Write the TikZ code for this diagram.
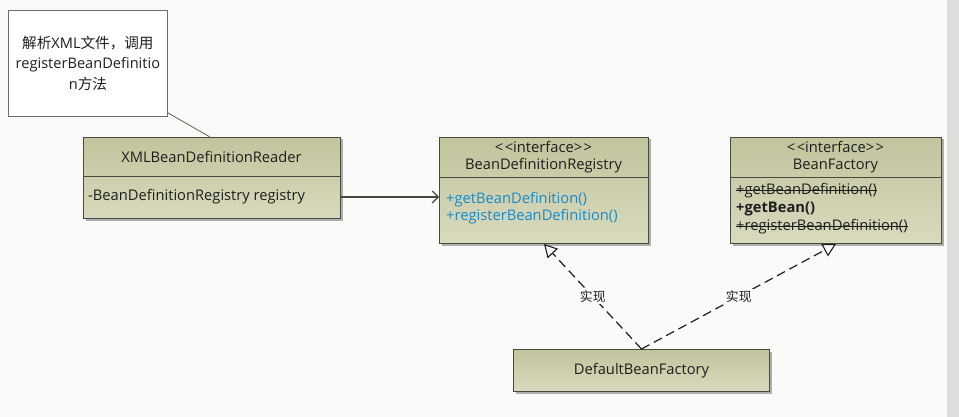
\documentclass[tikz,border=0pt]{standalone}
\usepackage{fontspec}
\setmainfont{Open Sans}
\newfontfamily\cjk{Noto Sans CJK SC}
\usetikzlibrary{arrows.meta,shadows,calc}
\definecolor{bgc}{RGB}{250,250,248}
\definecolor{stripc}{RGB}{221,221,219}
\definecolor{olivetop}{RGB}{194,196,156}
\definecolor{olivebot}{RGB}{217,218,190}
\definecolor{boxline}{RGB}{72,72,62}
\definecolor{txt}{RGB}{30,30,30}
\definecolor{methblue}{RGB}{22,138,205}
\begin{document}
\begin{tikzpicture}[x=1pt,y=-1pt,
  cls/.style={draw=boxline, line width=1pt, top color=olivetop, bottom color=olivebot,
    drop shadow={shadow xshift=2pt, shadow yshift=-2pt, fill=black, opacity=0.3},
    inner sep=0pt, anchor=north west},
  notebox/.style={draw=boxline!80, line width=0.8pt, fill=white, inner sep=0pt, anchor=north west,
    align=center, text=txt, font=\fontsize{14.6}{20.5}\selectfont},
  divider/.style={draw=boxline, line width=1pt},
  lbl/.style={inner sep=0pt, text=txt, font=\fontsize{14.7}{16}\selectfont},
  meth/.style={lbl, anchor=west, text=methblue},
  strike/.style={draw=txt, line width=0.9pt},
  assoc/.style={draw=boxline, line width=1.2pt, -{Straight Barb[length=6pt,width=12pt,line width=1.2pt]}},
  realize/.style={draw=txt, line width=1.2pt, dash pattern=on 9pt off 5pt,
    -{Triangle[open, length=13pt, width=14pt, line width=1.1pt, fill=bgc]}},
  rlabel/.style={fill=bgc, inner sep=2pt, text=txt, font=\cjk\fontsize{12.8}{14}\selectfont}]
\useasboundingbox (0,0) rectangle (959,417);
\fill[bgc] (0,0) rectangle (959,417);
\fill[stripc] (946,0) rectangle (959,417);
\fill[white!92!stripc] (945,0) rectangle (947,417);

% note
\node[notebox, minimum width=159pt, minimum height=106pt] (note) at (8,10)
  {{\cjk 解析}XML{\cjk 文件，调用}\\registerBeanDefinitio\\n{\cjk 方法}};

% XMLBeanDefinitionReader
\node[cls, minimum width=257pt, minimum height=81pt] (xml) at (83,137) {};
\draw[divider] ([yshift=-40pt]xml.north west) -- ([yshift=-40pt]xml.north east);
\node[lbl] (xmlname) at (211.5,157) {XMLBeanDefinitionReader};
\node[lbl, anchor=west] (xmlattr) at (88,197) {-BeanDefinitionRegistry registry};

% BeanDefinitionRegistry
\node[cls, minimum width=209pt, minimum height=106pt] (reg) at (439,137) {};
\draw[divider] ([yshift=-41pt]reg.north west) -- ([yshift=-41pt]reg.north east);
\node[lbl] (regst) at (543.5,147) {<\kern1.5pt<interface>\kern1.5pt>};
\node[lbl] (regname) at (543.5,166) {BeanDefinitionRegistry};
\node[meth] (regm1) at (446,200) {+getBeanDefinition()};
\node[meth] (regm2) at (446,216.5) {+registerBeanDefinition()};

% BeanFactory
\node[cls, minimum width=211pt, minimum height=106pt] (bf) at (730,137) {};
\draw[divider] ([yshift=-41pt]bf.north west) -- ([yshift=-41pt]bf.north east);
\node[lbl] (bfst) at (835.5,147) {<\kern1.5pt<interface>\kern1.5pt>};
\node[lbl] (bfname) at (835.5,166) {BeanFactory};
\node[lbl, anchor=west] (bfm1) at (736,191) {+getBeanDefinition()};
\node[lbl, anchor=west, font=\bfseries\fontsize{14.7}{16}\selectfont] (bfm2) at (736,209) {+getBean()};
\node[lbl, anchor=west] (bfm3) at (736,227) {+registerBeanDefinition()};
\draw[strike] ([yshift=1pt]bfm1.west) -- ([yshift=1pt]bfm1.east);
\draw[strike] ([yshift=1pt]bfm3.west) -- ([yshift=1pt]bfm3.east);

% DefaultBeanFactory
\node[cls, minimum width=256pt, minimum height=42pt] (dbf) at (513,349) {};
\node[lbl] (dbfname) at (dbf.center) {DefaultBeanFactory};

% connectors
\draw[draw=boxline!85, line width=0.8pt] ($(note.south east)+(0,-4)$) -- ($(xml.north west)+(127,0)$);
\draw[assoc] (xml.east |- xmlattr) -- (reg.west |- xmlattr);
\draw[realize] (dbf.north) -- node[rlabel, pos=0.5] {实现} (reg.south);
\draw[realize] (dbf.north) -- node[rlabel, pos=0.5] {实现} (bf.south);
\end{tikzpicture}
\end{document}
